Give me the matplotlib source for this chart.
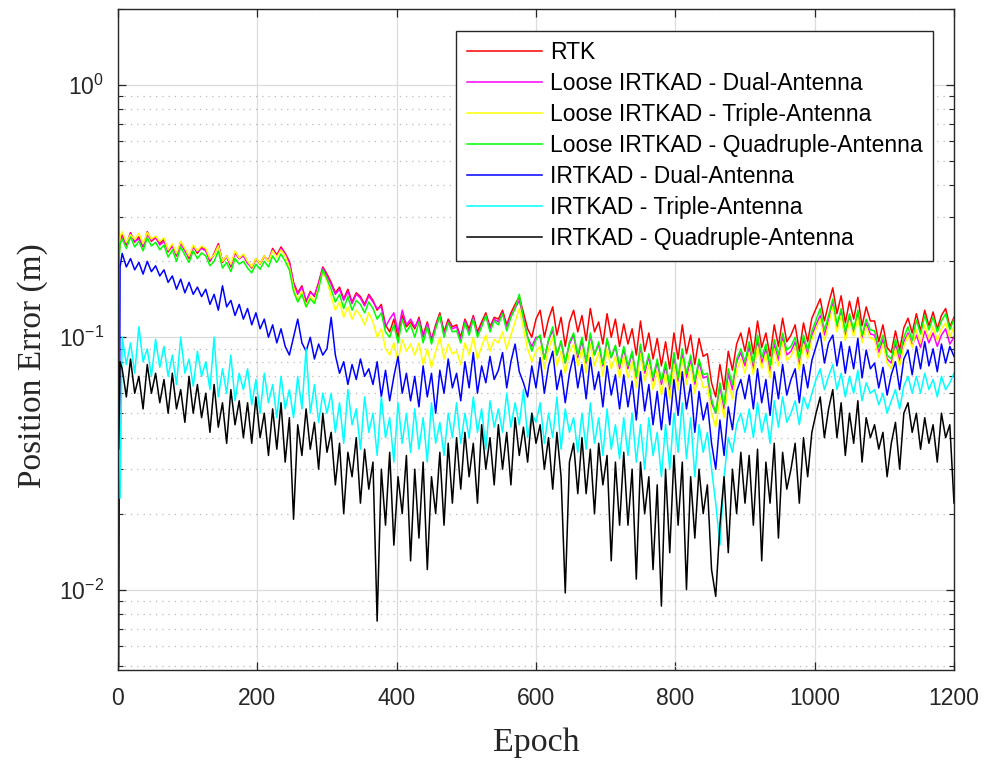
import matplotlib
matplotlib.use("Agg")
import matplotlib.pyplot as plt
from matplotlib.ticker import LogLocator, NullFormatter

plt.rcParams['font.family'] = ['Liberation Sans', 'DejaVu Sans']
plt.rcParams['mathtext.fontset'] = 'custom'
plt.rcParams['mathtext.rm'] = 'Liberation Sans'
plt.rcParams['mathtext.default'] = 'regular'

# epochs (first few for the start-up transient)
epoch = [0, 1, 3] + list(range(6, 1201, 6))

labels = ['RTK',
          'Loose IRTKAD - Dual-Antenna',
          'Loose IRTKAD - Triple-Antenna',
          'Loose IRTKAD - Quadruple-Antenna',
          'IRTKAD - Dual-Antenna',
          'IRTKAD - Triple-Antenna',
          'IRTKAD - Quadruple-Antenna']
colors = ['#ff0000', '#ff00ff', '#ffff00', '#00ff00', '#0000ff', '#00ffff', '#000000']

rtk = [1.6, 0.21, 0.24,
    0.255, 0.232, 0.26, 0.238, 0.25, 0.228, 0.262, 0.24, 0.248, 0.235,
    0.245, 0.218, 0.232, 0.21, 0.238, 0.222, 0.205, 0.23, 0.215, 0.228,
    0.222, 0.2, 0.215, 0.235, 0.198, 0.21, 0.19, 0.218, 0.205, 0.212,
    0.198, 0.188, 0.205, 0.195, 0.21, 0.2, 0.225, 0.212, 0.228, 0.215,
    0.2, 0.165, 0.15, 0.16, 0.138, 0.152, 0.145, 0.165, 0.19, 0.178,
    0.165, 0.15, 0.158, 0.142, 0.155, 0.138, 0.15, 0.145, 0.135, 0.148,
    0.14, 0.128, 0.135, 0.112, 0.105, 0.118, 0.1, 0.122, 0.11, 0.115,
    0.108, 0.12, 0.102, 0.115, 0.098, 0.112, 0.125, 0.105, 0.118, 0.11,
    0.112, 0.1, 0.118, 0.108, 0.122, 0.105, 0.115, 0.125, 0.11, 0.12,
    0.118, 0.128, 0.112, 0.125, 0.135, 0.145, 0.125, 0.108, 0.1, 0.118,
    0.128, 0.1, 0.118, 0.132, 0.102, 0.12, 0.092, 0.115, 0.128, 0.105,
    0.122, 0.097, 0.13, 0.105, 0.115, 0.094, 0.124, 0.1, 0.118, 0.092,
    0.113, 0.094, 0.108, 0.085, 0.116, 0.088, 0.104, 0.082, 0.099, 0.077,
    0.096, 0.075, 0.104, 0.082, 0.112, 0.086, 0.102, 0.078, 0.099, 0.084,
    0.086, 0.066, 0.058, 0.078, 0.062, 0.088, 0.074, 0.094, 0.104, 0.088,
    0.109, 0.086, 0.116, 0.091, 0.104, 0.084, 0.112, 0.092, 0.119, 0.096,
    0.102, 0.112, 0.088, 0.114, 0.096, 0.119, 0.13, 0.142, 0.116, 0.136,
    0.157, 0.124, 0.146, 0.114, 0.139, 0.118, 0.144, 0.111, 0.132, 0.116,
    0.116, 0.096, 0.112, 0.091, 0.087, 0.106, 0.089, 0.109, 0.119, 0.104,
    0.124, 0.106, 0.128, 0.111, 0.126, 0.108, 0.122, 0.13, 0.11, 0.12]

loose_dual = [2.0, 0.2, 0.245,
    0.25, 0.235, 0.258, 0.24, 0.245, 0.23, 0.255, 0.242, 0.25, 0.232,
    0.24, 0.22, 0.23, 0.212, 0.235, 0.22, 0.208, 0.228, 0.218, 0.225,
    0.22, 0.202, 0.212, 0.232, 0.2, 0.208, 0.192, 0.215, 0.205, 0.21,
    0.196, 0.19, 0.203, 0.197, 0.208, 0.202, 0.222, 0.21, 0.225, 0.213,
    0.198, 0.162, 0.148, 0.158, 0.14, 0.15, 0.147, 0.163, 0.188, 0.175,
    0.162, 0.148, 0.155, 0.14, 0.152, 0.136, 0.148, 0.143, 0.133, 0.146,
    0.138, 0.13, 0.132, 0.11, 0.118, 0.125, 0.105, 0.128, 0.112, 0.118,
    0.11, 0.118, 0.1, 0.113, 0.097, 0.11, 0.122, 0.103, 0.115, 0.108,
    0.11, 0.098, 0.116, 0.105, 0.12, 0.102, 0.112, 0.122, 0.108, 0.118,
    0.115, 0.125, 0.11, 0.122, 0.13, 0.14, 0.12, 0.1, 0.092, 0.1,
    0.1, 0.082, 0.097, 0.107, 0.085, 0.096, 0.079, 0.094, 0.102, 0.083,
    0.097, 0.079, 0.102, 0.085, 0.094, 0.077, 0.098, 0.083, 0.092, 0.075,
    0.09, 0.075, 0.087, 0.069, 0.092, 0.072, 0.084, 0.067, 0.08, 0.065,
    0.077, 0.062, 0.084, 0.067, 0.087, 0.069, 0.082, 0.065, 0.08, 0.069,
    0.07, 0.055, 0.05, 0.064, 0.052, 0.072, 0.062, 0.08, 0.087, 0.077,
    0.092, 0.075, 0.097, 0.079, 0.09, 0.073, 0.094, 0.081, 0.1, 0.085,
    0.088, 0.096, 0.077, 0.098, 0.085, 0.102, 0.112, 0.122, 0.102, 0.117,
    0.137, 0.109, 0.127, 0.102, 0.12, 0.105, 0.124, 0.099, 0.114, 0.103,
    0.102, 0.087, 0.098, 0.082, 0.079, 0.094, 0.081, 0.096, 0.104, 0.093,
    0.102, 0.091, 0.106, 0.095, 0.104, 0.092, 0.102, 0.108, 0.094, 0.1]

loose_triple = [1.6, 0.2, 0.25,
    0.262, 0.238, 0.255, 0.245, 0.258, 0.235, 0.26, 0.245, 0.252, 0.24,
    0.248, 0.222, 0.235, 0.215, 0.24, 0.225, 0.21, 0.232, 0.22, 0.23,
    0.225, 0.205, 0.212, 0.23, 0.2, 0.21, 0.195, 0.22, 0.206, 0.214,
    0.2, 0.19, 0.205, 0.196, 0.21, 0.2, 0.22, 0.208, 0.222, 0.21,
    0.19, 0.158, 0.14, 0.152, 0.132, 0.145, 0.138, 0.158, 0.182, 0.168,
    0.145, 0.128, 0.138, 0.12, 0.132, 0.118, 0.128, 0.122, 0.112, 0.125,
    0.115, 0.1, 0.108, 0.09, 0.085, 0.095, 0.08, 0.098, 0.088, 0.094,
    0.085, 0.095, 0.078, 0.09, 0.076, 0.088, 0.1, 0.082, 0.094, 0.086,
    0.088, 0.078, 0.095, 0.085, 0.1, 0.082, 0.092, 0.102, 0.088, 0.098,
    0.095, 0.105, 0.09, 0.102, 0.115, 0.13, 0.108, 0.09, 0.08, 0.088,
    0.092, 0.075, 0.09, 0.1, 0.077, 0.088, 0.072, 0.087, 0.094, 0.077,
    0.09, 0.072, 0.094, 0.077, 0.087, 0.07, 0.09, 0.075, 0.084, 0.069,
    0.084, 0.069, 0.08, 0.063, 0.086, 0.067, 0.078, 0.062, 0.074, 0.059,
    0.072, 0.057, 0.078, 0.062, 0.082, 0.065, 0.077, 0.06, 0.074, 0.063,
    0.064, 0.05, 0.044, 0.058, 0.048, 0.066, 0.057, 0.074, 0.082, 0.072,
    0.087, 0.071, 0.092, 0.075, 0.086, 0.069, 0.09, 0.077, 0.096, 0.081,
    0.084, 0.092, 0.074, 0.094, 0.082, 0.098, 0.108, 0.118, 0.097, 0.112,
    0.132, 0.105, 0.122, 0.097, 0.116, 0.101, 0.12, 0.095, 0.11, 0.099,
    0.098, 0.083, 0.094, 0.079, 0.075, 0.09, 0.077, 0.092, 0.102, 0.091,
    0.107, 0.095, 0.112, 0.099, 0.11, 0.097, 0.108, 0.114, 0.1, 0.11]

loose_quad = [1.6, 0.19, 0.235,
    0.245, 0.225, 0.25, 0.228, 0.24, 0.22, 0.248, 0.23, 0.238, 0.222,
    0.232, 0.208, 0.222, 0.2, 0.228, 0.212, 0.198, 0.22, 0.205, 0.216,
    0.21, 0.192, 0.2, 0.22, 0.188, 0.198, 0.182, 0.205, 0.195, 0.2,
    0.188, 0.18, 0.195, 0.186, 0.2, 0.19, 0.21, 0.198, 0.214, 0.2,
    0.185, 0.152, 0.138, 0.148, 0.132, 0.142, 0.136, 0.155, 0.185, 0.17,
    0.155, 0.138, 0.148, 0.13, 0.145, 0.128, 0.14, 0.135, 0.125, 0.138,
    0.13, 0.118, 0.125, 0.105, 0.1, 0.112, 0.095, 0.118, 0.105, 0.112,
    0.1, 0.115, 0.095, 0.11, 0.094, 0.108, 0.122, 0.1, 0.114, 0.105,
    0.106, 0.095, 0.114, 0.102, 0.118, 0.1, 0.11, 0.122, 0.105, 0.116,
    0.112, 0.124, 0.106, 0.12, 0.13, 0.148, 0.118, 0.1, 0.088, 0.098,
    0.102, 0.082, 0.098, 0.11, 0.085, 0.097, 0.079, 0.096, 0.104, 0.085,
    0.1, 0.08, 0.104, 0.085, 0.096, 0.078, 0.099, 0.083, 0.093, 0.077,
    0.092, 0.077, 0.088, 0.07, 0.094, 0.074, 0.086, 0.069, 0.082, 0.067,
    0.08, 0.064, 0.087, 0.069, 0.09, 0.072, 0.085, 0.067, 0.082, 0.071,
    0.072, 0.057, 0.05, 0.066, 0.054, 0.075, 0.065, 0.082, 0.09, 0.08,
    0.096, 0.079, 0.102, 0.083, 0.094, 0.077, 0.098, 0.085, 0.104, 0.089,
    0.092, 0.1, 0.082, 0.102, 0.089, 0.106, 0.117, 0.13, 0.107, 0.122,
    0.142, 0.112, 0.13, 0.105, 0.124, 0.107, 0.128, 0.102, 0.118, 0.107,
    0.106, 0.091, 0.102, 0.085, 0.082, 0.098, 0.085, 0.1, 0.11, 0.097,
    0.117, 0.103, 0.122, 0.107, 0.12, 0.105, 0.116, 0.124, 0.107, 0.118]

irtkad_dual = [1.9, 0.005, 0.19,
    0.215, 0.19, 0.205, 0.185, 0.198, 0.178, 0.2, 0.182, 0.192, 0.175,
    0.185, 0.165, 0.175, 0.155, 0.17, 0.15, 0.165, 0.148, 0.158, 0.145,
    0.155, 0.135, 0.148, 0.128, 0.16, 0.132, 0.14, 0.122, 0.135, 0.118,
    0.13, 0.112, 0.125, 0.108, 0.118, 0.1, 0.112, 0.095, 0.108, 0.092,
    0.085, 0.1, 0.118, 0.095, 0.088, 0.1, 0.082, 0.094, 0.085, 0.09,
    0.12, 0.085, 0.072, 0.08, 0.065, 0.078, 0.068, 0.082, 0.07, 0.075,
    0.065, 0.08, 0.058, 0.074, 0.056, 0.07, 0.084, 0.06, 0.072, 0.056,
    0.07, 0.053, 0.077, 0.058, 0.072, 0.05, 0.074, 0.06, 0.082, 0.063,
    0.072, 0.056, 0.08, 0.063, 0.087, 0.06, 0.077, 0.066, 0.084, 0.068,
    0.074, 0.087, 0.063, 0.08, 0.094, 0.073, 0.066, 0.058, 0.077, 0.063,
    0.083, 0.06, 0.077, 0.088, 0.062, 0.074, 0.055, 0.072, 0.085, 0.063,
    0.078, 0.057, 0.083, 0.062, 0.073, 0.053, 0.077, 0.059, 0.071, 0.052,
    0.071, 0.053, 0.067, 0.047, 0.073, 0.051, 0.065, 0.045, 0.061, 0.043,
    0.063, 0.045, 0.068, 0.049, 0.073, 0.052, 0.065, 0.042, 0.061, 0.047,
    0.055, 0.038, 0.03, 0.047, 0.034, 0.053, 0.043, 0.061, 0.068, 0.057,
    0.071, 0.052, 0.075, 0.055, 0.068, 0.049, 0.073, 0.057, 0.078, 0.059,
    0.068, 0.075, 0.055, 0.078, 0.063, 0.081, 0.092, 0.104, 0.079, 0.095,
    0.102, 0.077, 0.096, 0.072, 0.092, 0.075, 0.099, 0.069, 0.089, 0.075,
    0.079, 0.063, 0.076, 0.059, 0.071, 0.08, 0.062, 0.082, 0.089, 0.071,
    0.092, 0.075, 0.096, 0.077, 0.09, 0.073, 0.094, 0.079, 0.092, 0.084]

irtkad_triple = [1.5, 0.09, 0.023,
    0.1, 0.078, 0.095, 0.072, 0.11, 0.08, 0.09, 0.07, 0.098, 0.076,
    0.092, 0.07, 0.085, 0.065, 0.1, 0.072, 0.082, 0.064, 0.088, 0.07,
    0.08, 0.062, 0.1, 0.058, 0.075, 0.06, 0.085, 0.056, 0.072, 0.062,
    0.075, 0.054, 0.068, 0.05, 0.072, 0.055, 0.065, 0.048, 0.07, 0.052,
    0.062, 0.048, 0.07, 0.052, 0.09, 0.05, 0.065, 0.046, 0.06, 0.05,
    0.06, 0.042, 0.055, 0.038, 0.062, 0.045, 0.052, 0.036, 0.058, 0.042,
    0.05, 0.034, 0.058, 0.04, 0.048, 0.032, 0.055, 0.038, 0.05, 0.035,
    0.052, 0.036, 0.048, 0.032, 0.055, 0.038, 0.046, 0.034, 0.05, 0.04,
    0.055, 0.038, 0.05, 0.04, 0.058, 0.042, 0.052, 0.036, 0.056, 0.044,
    0.052, 0.042, 0.06, 0.044, 0.055, 0.045, 0.062, 0.04, 0.05, 0.046,
    0.055, 0.038, 0.05, 0.04, 0.058, 0.036, 0.052, 0.042, 0.048, 0.035,
    0.05, 0.036, 0.055, 0.038, 0.048, 0.034, 0.052, 0.036, 0.045, 0.033,
    0.048, 0.034, 0.05, 0.032, 0.045, 0.03, 0.048, 0.034, 0.042, 0.028,
    0.045, 0.03, 0.05, 0.035, 0.055, 0.033, 0.048, 0.028, 0.045, 0.035,
    0.042, 0.03, 0.022, 0.015, 0.028, 0.04, 0.035, 0.045, 0.05, 0.042,
    0.052, 0.04, 0.055, 0.042, 0.05, 0.038, 0.056, 0.044, 0.058, 0.046,
    0.05, 0.056, 0.045, 0.058, 0.052, 0.06, 0.068, 0.075, 0.062, 0.07,
    0.078, 0.062, 0.072, 0.058, 0.07, 0.06, 0.074, 0.056, 0.066, 0.06,
    0.062, 0.054, 0.06, 0.05, 0.056, 0.062, 0.052, 0.064, 0.07, 0.06,
    0.07, 0.06, 0.072, 0.062, 0.068, 0.058, 0.07, 0.062, 0.066, 0.072]

irtkad_quad = [1.4, 0.036, 0.08,
    0.075, 0.058, 0.082, 0.06, 0.07, 0.052, 0.078, 0.06, 0.072, 0.055,
    0.068, 0.05, 0.072, 0.052, 0.062, 0.046, 0.07, 0.05, 0.065, 0.048,
    0.06, 0.042, 0.065, 0.044, 0.055, 0.038, 0.062, 0.045, 0.056, 0.04,
    0.055, 0.038, 0.058, 0.04, 0.05, 0.034, 0.052, 0.036, 0.055, 0.032,
    0.048, 0.019, 0.045, 0.034, 0.052, 0.036, 0.046, 0.03, 0.05, 0.035,
    0.042, 0.026, 0.038, 0.02, 0.035, 0.028, 0.04, 0.022, 0.036, 0.025,
    0.032, 0.0075, 0.03, 0.018, 0.035, 0.015, 0.028, 0.02, 0.034, 0.013,
    0.03, 0.016, 0.032, 0.012, 0.028, 0.02, 0.035, 0.018, 0.038, 0.022,
    0.04, 0.025, 0.042, 0.028, 0.038, 0.022, 0.045, 0.03, 0.04, 0.026,
    0.045, 0.03, 0.042, 0.026, 0.048, 0.034, 0.044, 0.032, 0.05, 0.038,
    0.045, 0.03, 0.04, 0.025, 0.042, 0.028, 0.0097, 0.032, 0.038, 0.024,
    0.04, 0.024, 0.036, 0.02, 0.038, 0.026, 0.034, 0.013, 0.032, 0.018,
    0.035, 0.018, 0.03, 0.011, 0.032, 0.02, 0.028, 0.012, 0.026, 0.0086,
    0.03, 0.014, 0.034, 0.018, 0.032, 0.01, 0.028, 0.016, 0.03, 0.02,
    0.026, 0.012, 0.0094, 0.018, 0.028, 0.014, 0.03, 0.02, 0.035, 0.022,
    0.034, 0.018, 0.036, 0.013, 0.032, 0.022, 0.038, 0.016, 0.035, 0.025,
    0.03, 0.038, 0.022, 0.04, 0.028, 0.042, 0.05, 0.058, 0.04, 0.052,
    0.062, 0.04, 0.055, 0.034, 0.05, 0.038, 0.056, 0.032, 0.048, 0.04,
    0.045, 0.036, 0.042, 0.028, 0.038, 0.046, 0.03, 0.05, 0.055, 0.042,
    0.05, 0.036, 0.048, 0.038, 0.045, 0.032, 0.05, 0.04, 0.045, 0.022]

series = [rtk, loose_dual, loose_triple, loose_quad, irtkad_dual, irtkad_triple, irtkad_quad]

fig = plt.figure(figsize=(9.89, 7.63), dpi=100)
ax = fig.add_axes([0.1193, 0.1219, 0.8453, 0.8663])

for y, c, lab in zip(series, colors, labels):
    ax.plot(epoch, y, color=c, lw=1.1, label=lab)

ax.set_yscale('log')
ax.set_xlim(0, 1200)
ax.set_ylim(0.0048, 2.0)
ax.set_xticks([0, 200, 400, 600, 800, 1000, 1200])
ax.yaxis.set_major_locator(LogLocator(base=10, numticks=10))
ax.yaxis.set_minor_locator(LogLocator(base=10, subs=range(2, 10), numticks=20))
ax.yaxis.set_minor_formatter(NullFormatter())

ax.grid(True, which='major', color='#dcdcdc', lw=0.9, ls='-')
ax.grid(True, which='minor', axis='y', color='#b8b8b8', lw=0.9, ls=(0, (1, 4)))
ax.set_axisbelow(True)

ax.tick_params(which='both', direction='in', top=True, right=True,
               colors='#262626', labelsize=16.5)
ax.tick_params(which='major', length=5.5, width=0.9)
ax.tick_params(which='minor', length=3.5, width=0.8)
ax.tick_params(axis='x', pad=12)
ax.tick_params(axis='y', pad=10)
for s in ax.spines.values():
    s.set_color('#262626')
    s.set_linewidth(1.0)

ax.set_xlabel('Epoch', family='Liberation Serif', fontsize=24.5, color='#262626')
ax.set_ylabel('Position Error (m)', family='Liberation Serif', fontsize=24, color='#262626')
ax.xaxis.set_label_coords(0.5, -0.087)
ax.yaxis.set_label_coords(-0.084, 0.46)

leg = ax.legend(loc='upper right', bbox_to_anchor=(0.975, 0.967), borderaxespad=0,
                fontsize=16.5, fancybox=False, framealpha=1, edgecolor='#262626',
                handlelength=3.3, handletextpad=0.35, labelspacing=0.35, borderpad=0.45)
leg.get_frame().set_linewidth(1.0)

fig.savefig('out.png', dpi=100)
